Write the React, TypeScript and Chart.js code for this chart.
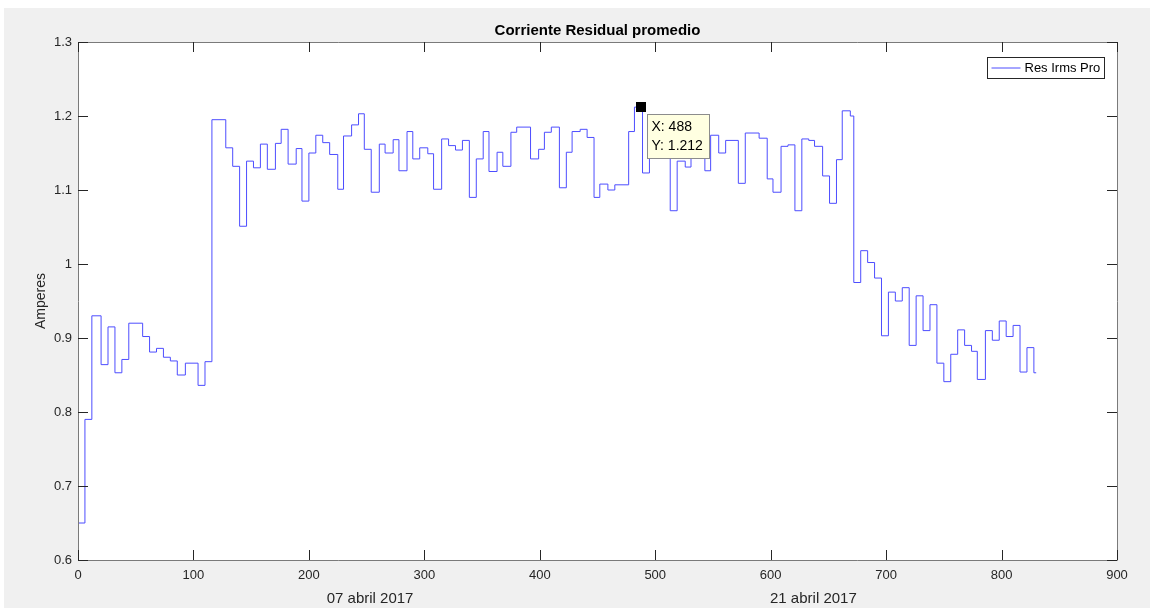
import React, { useEffect, useRef } from 'react';
import { Chart, registerables } from 'chart.js';

Chart.register(...registerables);

// ---- data ----
const chartTitle = 'Corriente Residual promedio';
const yAxisTitle = 'Amperes';
const seriesLabel = 'Res Irms Pro';

// sample index at which each level starts, and the level value
const stepStarts = [
  0, 6, 12, 20, 26, 32, 38, 44, 56, 62, 68, 74, 80, 86, 93, 104, 110,
  116, 128, 134, 140, 146, 152, 158, 164, 171, 176, 182, 189, 194, 200, 206, 212, 218, 225,
  230, 237, 243, 248, 254, 261, 266, 273, 278, 285, 290, 296, 303, 308, 315, 321, 327, 333,
  339, 345, 351, 356, 363, 368, 375, 380, 392, 399, 404, 410, 417, 423, 428, 435, 441, 447,
  452, 459, 465, 477, 482, 489, 495, 513, 519, 526, 531, 543, 548, 555, 561, 572, 578, 590,
  597, 602, 609, 615, 621, 627, 633, 638, 645, 651, 657, 662, 669, 672, 678, 684, 690, 696,
  702, 708, 714, 720, 726, 732, 738, 744, 750, 756, 762, 768, 774, 779, 786, 792, 798, 804,
  810, 816, 822, 828,
];
const stepValues = [
  0.65, 0.79, 0.93, 0.864, 0.915, 0.853, 0.871, 0.92, 0.902, 0.881, 0.886, 0.874, 0.869, 0.85, 0.866, 0.836, 0.868,
  1.195, 1.157, 1.132, 1.051, 1.139, 1.13, 1.162, 1.128, 1.163, 1.182, 1.135, 1.156, 1.085, 1.15, 1.174, 1.164, 1.148, 1.101,
  1.173, 1.188, 1.203, 1.155, 1.097, 1.162, 1.15, 1.168, 1.126, 1.179, 1.142, 1.157, 1.149, 1.101, 1.169, 1.16, 1.154, 1.167,
  1.09, 1.142, 1.179, 1.125, 1.151, 1.132, 1.178, 1.185, 1.142, 1.155, 1.178, 1.185, 1.103, 1.151, 1.179, 1.182, 1.171, 1.09,
  1.108, 1.1, 1.107, 1.179, 1.212, 1.123, 1.18, 1.072, 1.139, 1.131, 1.178, 1.126, 1.174, 1.15, 1.167, 1.109, 1.177, 1.17,
  1.115, 1.097, 1.159, 1.161, 1.072, 1.169, 1.167, 1.159, 1.119, 1.082, 1.141, 1.207, 1.2, 0.975, 1.018, 1.002, 0.981, 0.903,
  0.962, 0.95, 0.968, 0.89, 0.957, 0.91, 0.945, 0.866, 0.841, 0.878, 0.911, 0.89, 0.882, 0.844, 0.91, 0.897, 0.923, 0.902,
  0.917, 0.854, 0.887, 0.853,
];
const seriesEnd = 830;

const xTickValues = [0, 100, 200, 300, 400, 500, 600, 700, 800, 900];
const yTickValues = [0.6, 0.7, 0.8, 0.9, 1.0, 1.1, 1.2, 1.3];
const dateTickPositions = [253, 637];
const dateTickLabels = ['07 abril 2017', '21 abril 2017'];

const datatipX = 488;
const datatipY = 1.212;

// ---- styling ----
const FONT = '"Liberation Sans", Arial, Helvetica, sans-serif';
const AXIS_COLOR = '#262626';
const FRAME_COLOR = '#7a7a7a';
const LINE_COLOR = '#4d4dff';

const plotBackground = {
  id: 'plotBackground',
  beforeDraw(chart: any) {
    const { ctx, chartArea: a } = chart;
    ctx.save();
    ctx.fillStyle = '#ffffff';
    ctx.fillRect(a.left, a.top, a.right - a.left, a.bottom - a.top);
    ctx.restore();
  },
};

const axesFrame = {
  id: 'axesFrame',
  afterDatasetsDraw(chart: any) {
    const { ctx, chartArea: a, scales } = chart;
    const xs = scales.x;
    const ys = scales.y;
    const len = 10;
    ctx.save();
    ctx.strokeStyle = FRAME_COLOR;
    ctx.lineWidth = 1;
    ctx.beginPath();
    ctx.rect(Math.round(a.left) + 0.5, Math.round(a.top) + 0.5, Math.round(a.right - a.left), Math.round(a.bottom - a.top));
    ctx.stroke();
    ctx.strokeStyle = AXIS_COLOR;
    ctx.beginPath();
    xTickValues.forEach((v) => {
      const px = Math.round(xs.getPixelForValue(v)) + 0.5;
      ctx.moveTo(px, a.bottom);
      ctx.lineTo(px, a.bottom - len);
      ctx.moveTo(px, a.top);
      ctx.lineTo(px, a.top + len);
    });
    yTickValues.forEach((v) => {
      const py = Math.round(ys.getPixelForValue(v)) + 0.5;
      ctx.moveTo(a.left, py);
      ctx.lineTo(a.left + len, py);
      ctx.moveTo(a.right, py);
      ctx.lineTo(a.right - len, py);
    });
    ctx.stroke();
    ctx.restore();
  },
};

const legendBox = {
  id: 'legendBox',
  afterDatasetsDraw(chart: any) {
    const { ctx, chartArea: a } = chart;
    const ds = chart.data.datasets[0];
    const w = 117;
    const h = 21;
    const left = Math.round(a.right - 13 - w) + 0.5;
    const top = Math.round(a.top + 15) + 0.5;
    ctx.save();
    ctx.fillStyle = '#ffffff';
    ctx.fillRect(left, top, w, h);
    ctx.strokeStyle = '#262626';
    ctx.lineWidth = 1;
    ctx.strokeRect(left, top, w, h);
    ctx.strokeStyle = ds.borderColor;
    ctx.lineWidth = 1;
    ctx.beginPath();
    ctx.moveTo(left + 4, top + h / 2);
    ctx.lineTo(left + 33, top + h / 2);
    ctx.stroke();
    ctx.fillStyle = '#000000';
    ctx.font = `13px ${FONT}`;
    ctx.textBaseline = 'middle';
    ctx.textAlign = 'left';
    ctx.fillText(ds.label, left + 37, top + h / 2 + 0.5);
    ctx.restore();
  },
};

const datatip = {
  id: 'datatip',
  afterDatasetsDraw(chart: any) {
    const { ctx, scales } = chart;
    const px = scales.x.getPixelForValue(datatipX);
    const py = scales.y.getPixelForValue(datatipY);
    ctx.save();
    ctx.fillStyle = '#000000';
    ctx.fillRect(Math.round(px) - 5, Math.round(py) - 5, 10, 10);
    const left = Math.round(px) + 6.5;
    const top = Math.round(py) + 7.5;
    const w = 62;
    const h = 44;
    ctx.fillStyle = '#ffffe1';
    ctx.fillRect(left, top, w, h);
    ctx.strokeStyle = '#8c8c8c';
    ctx.lineWidth = 1;
    ctx.strokeRect(left, top, w, h);
    ctx.fillStyle = '#000000';
    ctx.font = `14px ${FONT}`;
    ctx.textBaseline = 'middle';
    ctx.textAlign = 'left';
    ctx.fillText(`X: ${datatipX}`, left + 4, top + 13);
    ctx.fillText(`Y: ${datatipY}`, left + 4, top + 32);
    ctx.restore();
  },
};

export default function App() {
  const canvasRef = useRef<HTMLCanvasElement | null>(null);

  useEffect(() => {
    if (!canvasRef.current) return;
    const points = stepStarts.map((x, i) => ({ x, y: stepValues[i] }));
    points.push({ x: seriesEnd, y: stepValues[stepValues.length - 1] });

    const chart = new Chart(canvasRef.current, {
      type: 'line',
      data: {
        datasets: [
          {
            label: seriesLabel,
            data: points,
            borderColor: LINE_COLOR,
            borderWidth: 1,
            pointRadius: 0,
            fill: false,
            stepped: 'before',
            tension: 0,
          },
        ],
      },
      options: {
        animation: false,
        responsive: false,
        events: [],
        layout: { padding: { left: 0, right: 33, top: 0, bottom: 0 } },
        plugins: {
          legend: { display: false },
          tooltip: { enabled: false },
          title: {
            display: true,
            text: chartTitle,
            fullSize: false,
            color: '#000000',
            font: { family: FONT, size: 15, weight: 'bold', lineHeight: 1.2 },
            padding: { top: 14, bottom: 2 },
          },
        },
        scales: {
          x: {
            type: 'linear',
            position: 'bottom',
            weight: 0,
            min: 0,
            max: 900,
            afterBuildTicks: (s: any) => {
              s.ticks = xTickValues.map((v) => ({ value: v }));
            },
            ticks: {
              color: AXIS_COLOR,
              font: { family: FONT, size: 13 },
              padding: 8,
              maxRotation: 0,
              autoSkip: false,
              callback: (v: any) => String(v),
            },
            grid: { display: false, drawTicks: false },
            border: { display: false },
            afterFit: (s: any) => {
              s.height = 22;
            },
          },
          x2: {
            type: 'linear',
            position: 'bottom',
            weight: 1,
            min: 0,
            max: 900,
            afterBuildTicks: (s: any) => {
              s.ticks = dateTickPositions.map((v) => ({ value: v }));
            },
            ticks: {
              color: AXIS_COLOR,
              font: { family: FONT, size: 15 },
              padding: 8,
              maxRotation: 0,
              autoSkip: false,
              callback: (v: any) => {
                const i = dateTickPositions.indexOf(v);
                return i >= 0 ? dateTickLabels[i] : '';
              },
            },
            grid: { display: false, drawTicks: false },
            border: { display: false },
            afterFit: (s: any) => {
              s.height = 26;
            },
          },
          y: {
            type: 'linear',
            min: 0.6,
            max: 1.3,
            afterBuildTicks: (s: any) => {
              s.ticks = yTickValues.map((v) => ({ value: v }));
            },
            ticks: {
              color: AXIS_COLOR,
              font: { family: FONT, size: 13 },
              padding: 6,
              autoSkip: false,
              callback: (v: any) => String(Math.round(v * 10) / 10),
            },
            grid: { display: false, drawTicks: false },
            border: { display: false },
            title: {
              display: true,
              text: yAxisTitle,
              color: AXIS_COLOR,
              font: { family: FONT, size: 14, lineHeight: 1.2 },
              padding: { top: 29, bottom: 0 },
            },
            afterFit: (s: any) => {
              s.width = 74;
            },
          },
        },
      },
      plugins: [plotBackground, axesFrame, legendBox, datatip],
    } as any);

    return () => chart.destroy();
  }, []);

  return (
    <div
      style={{
        position: 'absolute',
        left: 4,
        top: 8,
        width: 1146,
        height: 600,
        background: '#f0f0f0',
      }}
    >
      <canvas ref={canvasRef} width={1146} height={600} style={{ display: 'block' }} />
    </div>
  );
}
